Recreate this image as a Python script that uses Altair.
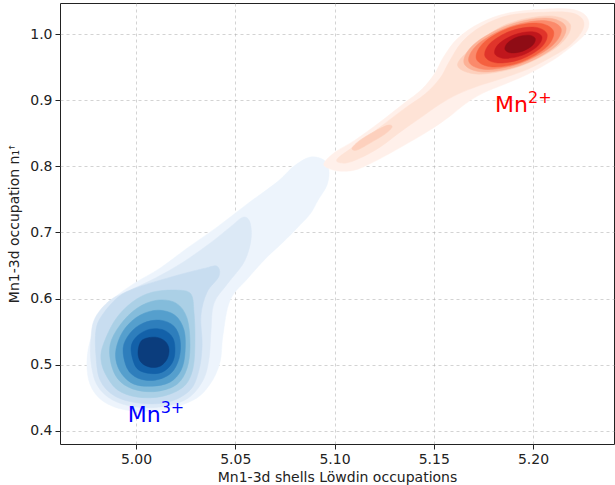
import altair as alt
import pandas as pd

X_TICKS = [5.00, 5.05, 5.10, 5.15, 5.20]
Y_TICKS = [0.4, 0.5, 0.6, 0.7, 0.8, 0.9, 1.0]

# ---- Mn3+ (blue) KDE contour bands, outermost -> core ----
b1_x = [5.0877, 5.0947, 5.0972, 5.0962, 5.0917, 5.0877, 5.0811, 5.0741, 5.0655, 5.0564, 5.0474, 5.0438, 5.0423, 5.0373, 5.0287, 5.0121, 4.9955, 4.9834, 4.9768, 4.9753, 4.9778, 4.9834, 4.9879, 4.9985, 5.0121, 5.0257, 5.0408, 5.0559, 5.0710, 5.0796]
b1_y = [0.8139, 0.8094, 0.7942, 0.7715, 0.7488, 0.7277, 0.7065, 0.6853, 0.6611, 0.6308, 0.5975, 0.5446, 0.5037, 0.4705, 0.4462, 0.4311, 0.4311, 0.4447, 0.4705, 0.5068, 0.5446, 0.5703, 0.5975, 0.6218, 0.6460, 0.6762, 0.7080, 0.7428, 0.7761, 0.8003]
b2_x = [4.9793, 4.9869, 4.9970, 5.0096, 5.0237, 5.0373, 5.0474, 5.0539, 5.0574, 5.0579, 5.0544, 5.0463, 5.0393, 5.0378, 5.0368, 5.0338, 5.0262, 5.0146, 5.0010, 4.9884, 4.9804, 4.9773, 4.9773]
b2_y = [0.5703, 0.5975, 0.6127, 0.6308, 0.6550, 0.6838, 0.7080, 0.7231, 0.7156, 0.6883, 0.6550, 0.6233, 0.5930, 0.5522, 0.5098, 0.4765, 0.4493, 0.4372, 0.4356, 0.4462, 0.4689, 0.5037, 0.5400]
b3_x = [4.9829, 4.9909, 4.9995, 5.0121, 5.0247, 5.0348, 5.0408, 5.0418, 5.0358, 5.0327, 5.0333, 5.0317, 5.0272, 5.0161, 5.0020, 4.9894, 4.9819, 4.9798, 4.9798]
b3_y = [0.5748, 0.6021, 0.6157, 0.6278, 0.6384, 0.6460, 0.6490, 0.6339, 0.6097, 0.5749, 0.5295, 0.4916, 0.4614, 0.4432, 0.4417, 0.4523, 0.4765, 0.5143, 0.5522]
b4_x = [4.9834, 4.9894, 4.9980, 5.0081, 5.0212, 5.0277, 5.0292, 5.0297, 5.0287, 5.0242, 5.0136, 5.0010, 4.9909, 4.9849, 4.9824]
b4_y = [0.5295, 0.5673, 0.5945, 0.6096, 0.6127, 0.6066, 0.5794, 0.5370, 0.4946, 0.4674, 0.4523, 0.4508, 0.4614, 0.4841, 0.5068]
b5_x = [4.9869, 4.9919, 5.0005, 5.0106, 5.0202, 5.0257, 5.0272, 5.0257, 5.0207, 5.0111, 5.0005, 4.9924, 4.9879]
b5_y = [0.5295, 0.5597, 0.5854, 0.5975, 0.5930, 0.5703, 0.5295, 0.4946, 0.4705, 0.4598, 0.4614, 0.4735, 0.4962]
b6_x = [4.9904, 4.9945, 5.0020, 5.0111, 5.0196, 5.0242, 5.0247, 5.0227, 5.0171, 5.0081, 4.9990, 4.9929, 4.9899]
b6_y = [0.5295, 0.5552, 0.5748, 0.5824, 0.5748, 0.5522, 0.5189, 0.4916, 0.4735, 0.4674, 0.4705, 0.4856, 0.5068]
b7_x = [4.9935, 4.9970, 5.0035, 5.0121, 5.0191, 5.0222, 5.0217, 5.0176, 5.0096, 5.0010, 4.9955]
b7_y = [0.5249, 0.5476, 0.5627, 0.5673, 0.5582, 0.5370, 0.5098, 0.4871, 0.4765, 0.4795, 0.4946]
b8_x = [4.9975, 5.0005, 5.0071, 5.0141, 5.0186, 5.0196, 5.0181, 5.0131, 5.0060, 5.0000]
b8_y = [0.5249, 0.5431, 0.5537, 0.5522, 0.5400, 0.5204, 0.5022, 0.4886, 0.4871, 0.4962]
b9_x = [5.0030, 5.0096, 5.0146, 5.0166, 5.0156, 5.0121, 5.0071, 5.0025, 5.0010]
b9_y = [0.5370, 0.5416, 0.5355, 0.5234, 0.5083, 0.4977, 0.4962, 0.5037, 0.5189]

blue_bands = [(b1_x, b1_y), (b2_x, b2_y), (b3_x, b3_y), (b4_x, b4_y), (b5_x, b5_y),
              (b6_x, b6_y), (b7_x, b7_y), (b8_x, b8_y), (b9_x, b9_y)]
blue_colors = ["#edf4fc", "#dce9f6", "#c8ddf0", "#abd0e6", "#84bcdb",
               "#559fcd", "#2e7ebc", "#1361a9", "#0b3d7d"]

# ---- Mn2+ (red) KDE contour bands, outermost -> core ----
r1_x = [5.0947, 5.1003, 5.1103, 5.1229, 5.1345, 5.1441, 5.1506, 5.1552, 5.1622, 5.1733, 5.1874, 5.2061, 5.2187, 5.2257, 5.2282, 5.2262, 5.2197, 5.2101, 5.1975, 5.1859, 5.1748, 5.1658, 5.1582, 5.1481, 5.1370, 5.1244, 5.1118, 5.1028, 5.0967]
r1_y = [0.8048, 0.8215, 0.8396, 0.8669, 0.8941, 0.9168, 0.9410, 0.9667, 0.9939, 1.0166, 1.0318, 1.0378, 1.0378, 1.0303, 1.0166, 1.0000, 0.9818, 0.9607, 0.9395, 0.9244, 0.9107, 0.8941, 0.8759, 0.8548, 0.8351, 0.8139, 0.7957, 0.7927, 0.7973]
r2_x = [5.1013, 5.1129, 5.1229, 5.1355, 5.1456, 5.1532, 5.1577, 5.1642, 5.1743, 5.1884, 5.2076, 5.2197, 5.2252, 5.2247, 5.2187, 5.2101, 5.1975, 5.1834, 5.1723, 5.1622, 5.1532, 5.1431, 5.1330, 5.1229, 5.1129, 5.1053]
r2_y = [0.8109, 0.8366, 0.8593, 0.8880, 0.9092, 0.9334, 0.9577, 0.9879, 1.0121, 1.0287, 1.0333, 1.0318, 1.0212, 1.0045, 0.9834, 0.9667, 0.9470, 0.9319, 0.9213, 0.9092, 0.8941, 0.8729, 0.8517, 0.8290, 0.8124, 0.8048]
r3_x = [5.2188, 5.2078, 5.1866, 5.1700, 5.1620, 5.1730, 5.1942, 5.2132]
r3_y = [1.0144, 1.0275, 1.0147, 0.9810, 0.9524, 0.9394, 0.9521, 0.9832]
r3s_x = [5.1088, 5.1129, 5.1204, 5.1270, 5.1290, 5.1254, 5.1179, 5.1113]
r3s_y = [0.8275, 0.8396, 0.8532, 0.8623, 0.8593, 0.8487, 0.8351, 0.8245]
r4_x = [5.2165, 5.2065, 5.1873, 5.1703, 5.1653, 5.1754, 5.1945, 5.2116]
r4_y = [1.0113, 1.0243, 1.0133, 0.9848, 0.9555, 0.9426, 0.9535, 0.9820]
r5_x = [5.2141, 5.2050, 5.1876, 5.1722, 5.1677, 5.1768, 5.1942, 5.2096]
r5_y = [1.0087, 1.0204, 1.0104, 0.9846, 0.9581, 0.9464, 0.9564, 0.9822]
r6_x = [5.2103, 5.2025, 5.1878, 5.1750, 5.1715, 5.1794, 5.1940, 5.2068]
r6_y = [1.0046, 1.0165, 1.0090, 0.9865, 0.9622, 0.9503, 0.9578, 0.9803]
r7_x = [5.2070, 5.2006, 5.1888, 5.1785, 5.1758, 5.1822, 5.1940, 5.2043]
r7_y = [1.0005, 1.0105, 1.0047, 0.9864, 0.9663, 0.9563, 0.9621, 0.9804]
r8_x = [5.2044, 5.1995, 5.1906, 5.1828, 5.1807, 5.1855, 5.1944, 5.2022]
r8_y = [0.9963, 1.0036, 0.9990, 0.9853, 0.9705, 0.9632, 0.9678, 0.9815]
r9_x = [5.2011, 5.1980, 5.1922, 5.1872, 5.1859, 5.1891, 5.1948, 5.1998]
r9_y = [0.9932, 0.9983, 0.9956, 0.9866, 0.9766, 0.9715, 0.9742, 0.9832]

red_bands = [(r1_x, r1_y), (r2_x, r2_y), (r3_x, r3_y), (r3s_x, r3s_y), (r4_x, r4_y),
             (r5_x, r5_y), (r6_x, r6_y), (r7_x, r7_y), (r8_x, r8_y), (r9_x, r9_y)]
red_colors = ["#fff0ea", "#fee3d6", "#fdd0bd", "#fdd0bd", "#fcb196",
              "#fb8a6b", "#f5603f", "#e0342a", "#c0161c", "#8f0c15"]

# ---- labels ----
label_main = ["Mn", "Mn"]
label_sup = ["3+", "2+"]
label_x = [4.9958, 5.1809]
label_y = [0.4134, 0.8820]
label_colors = ["#0000ff", "#ff0000"]

X_DOMAIN = [4.9617, 5.2408]
Y_DOMAIN = [0.380, 1.047]
FONT = "DejaVu Sans"

x_enc = alt.X("x:Q", scale=alt.Scale(domain=X_DOMAIN, nice=False, zero=False),
              axis=alt.Axis(values=X_TICKS, format=".2f",
                            title="Mn1-3d shells Löwdin occupations",
                            titlePadding=4))
y_enc = alt.Y("y:Q", scale=alt.Scale(domain=Y_DOMAIN, nice=False, zero=False),
              axis=alt.Axis(values=Y_TICKS, format=".1f",
                            title="Mn1-3d occupation n\u2081\ua71b",
                            titlePadding=8))

layers = []
for bands, colors in ((blue_bands, blue_colors), (red_bands, red_colors)):
    for (bx, by), col in zip(bands, colors):
        df = pd.DataFrame({"x": bx, "y": by, "i": list(range(len(bx)))})
        layers.append(
            alt.Chart(df).mark_line(interpolate="cardinal-closed", fill=col,
                                    stroke=col, strokeWidth=0.5, clip=True)
            .encode(x=x_enc, y=y_enc, order="i:Q")
        )

lab_df = pd.DataFrame({"x": label_x, "y": label_y, "main": label_main,
                       "sup": label_sup, "c": label_colors})
main_txt = alt.Chart(lab_df).mark_text(align="left", baseline="alphabetic",
                                       fontSize=22, font=FONT).encode(
    x=x_enc, y=y_enc, text="main:N",
    color=alt.Color("c:N", scale=None))
sup_txt = alt.Chart(lab_df).mark_text(align="left", baseline="alphabetic",
                                      fontSize=16, font=FONT, dx=33, dy=-9).encode(
    x=x_enc, y=y_enc, text="sup:N",
    color=alt.Color("c:N", scale=None))
layers += [main_txt, sup_txt]

chart = alt.layer(*layers).properties(
    width=554, height=441,
    padding={"left": 60, "top": 3, "right": 1, "bottom": 41},
    autosize=alt.AutoSizeParams(type="none"),
    background="white",
).configure_view(
    stroke="#222222", strokeWidth=1
).configure_axis(
    labelFont=FONT, titleFont=FONT, labelFontSize=14, titleFontSize=14,
    titleFontWeight="normal", labelColor="#222222", titleColor="#222222",
    tickColor="#222222", tickSize=5, labelPadding=3, domain=False,
    grid=True, gridColor="#b0b0b0", gridOpacity=0.7, gridDash=[3, 3],
    gridWidth=0.8, zindex=1,
)

chart.save("out.html", embed_options={"renderer": "svg", "actions": False})
